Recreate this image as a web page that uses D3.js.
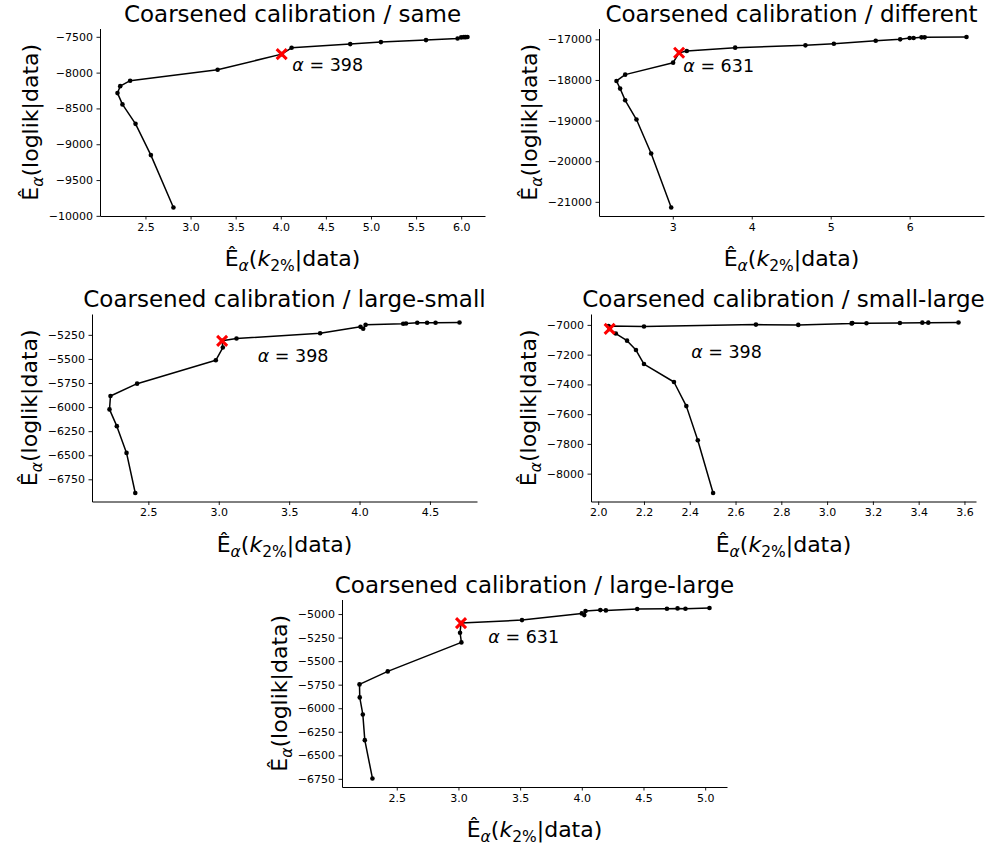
<!DOCTYPE html>
<html>
<head>
<meta charset="utf-8">
<script src="https://cdn.jsdelivr.net/npm/d3@7"></script>
<style>
  body { margin: 0; background: #fff; }
  text { font-family: "DejaVu Sans", sans-serif; fill: #000; }
</style>
</head>
<body>
<script>
// titres des panneaux
const titres = [
  "Coarsened calibration / same",
  "Coarsened calibration / different",
  "Coarsened calibration / large-small",
  "Coarsened calibration / small-large",
  "Coarsened calibration / large-large"
];

// valeurs (x = E(k2%|data), y = E(loglik|data))
const sameX = [2.81, 2.56, 2.39, 2.245, 2.19, 2.22, 2.33, 3.30, 4.01, 4.12, 4.77, 5.11, 5.61, 5.96, 6.00, 6.03, 6.05, 6.07];
const sameY = [-9883, -9152, -8715, -8444, -8286, -8189, -8113, -7960, -7742, -7653, -7602, -7574, -7546, -7524, -7508, -7505, -7505, -7503];

const diffX = [2.98, 2.726, 2.54, 2.397, 2.333, 2.287, 2.397, 3.004, 3.08, 3.177, 3.79, 4.68, 5.04, 5.57, 5.88, 6.0, 6.05, 6.15, 6.19, 6.72];
const diffY = [-21139, -19811, -18975, -18500, -18213, -18025, -17869, -17574, -17330, -17287, -17205, -17148, -17107, -17033, -17000, -16967, -16967, -16951, -16951, -16943];

const lsX = [2.407, 2.345, 2.276, 2.224, 2.231, 2.42, 2.979, 3.029, 3.024, 3.126, 3.72, 4.007, 4.026, 4.043, 4.31, 4.33, 4.41, 4.48, 4.54, 4.71];
const lsY = [-6892, -6476, -6198, -6024, -5885, -5757, -5514, -5382, -5312, -5288, -5233, -5167, -5187, -5146, -5135, -5132, -5125, -5125, -5125, -5122];

const slX = [2.502, 2.435, 2.385, 2.331, 2.2, 2.165, 2.126, 2.077, 2.05, 2.045, 2.2, 2.689, 2.874, 3.107, 3.11, 3.172, 3.318, 3.416, 3.442, 3.574];
const slY = [-8130, -7775, -7546, -7384, -7263, -7169, -7106, -7058, -7027, -7008, -7011, -6998, -7000, -6990, -6988, -6989, -6987, -6985, -6985, -6984];

const llX = [2.303, 2.241, 2.225, 2.2, 2.198, 2.427, 3.024, 3.013, 3.021, 3.515, 4.0, 4.02, 4.03, 4.15, 4.195, 4.449, 4.69, 4.776, 4.84, 5.035];
const llY = [-6746, -6339, -6066, -5885, -5747, -5609, -5301, -5198, -5096, -5064, -4993, -5011, -4968, -4958, -4961, -4947, -4943, -4940, -4943, -4936];

// point choisi (croix rouge) et son alpha
const indiceChoisi = [8, 8, 8, 8, 8];
const alphas = [398, 631, 398, 398, 631];
// position de l'annotation, en coordonnées des données
const annotX = [4.128, 3.133, 3.277, 2.406, 3.242];
const annotY = [-7975, -17804, -5528, -7220, -5311];

// graduations
const ticksX = [
  [2.5, 3.0, 3.5, 4.0, 4.5, 5.0, 5.5, 6.0],
  [3, 4, 5, 6],
  [2.5, 3.0, 3.5, 4.0, 4.5],
  [2.0, 2.2, 2.4, 2.6, 2.8, 3.0, 3.2, 3.4, 3.6],
  [2.5, 3.0, 3.5, 4.0, 4.5, 5.0]
];
const formatsX = [".1f", ".0f", ".1f", ".1f", ".1f"];
const ticksY = [
  [-10000, -9500, -9000, -8500, -8000, -7500],
  [-21000, -20000, -19000, -18000, -17000],
  [-6750, -6500, -6250, -6000, -5750, -5500, -5250],
  [-8000, -7800, -7600, -7400, -7200, -7000],
  [-6750, -6500, -6250, -6000, -5750, -5500, -5250, -5000]
];

const seriesX = [sameX, diffX, lsX, slX, llX];
const seriesY = [sameY, diffY, lsY, slY, llY];

// mise en page (pixels)
const largeur = 987, hauteur = 849;
const W = 385, H = 187.5;
const origines = [[100, 28.5], [599, 28.5], [92, 314], [591, 314], [342, 599.5]];

const svg = d3.select("body").append("svg")
  .attr("width", largeur)
  .attr("height", hauteur);
svg.append("rect").attr("width", largeur).attr("height", hauteur).attr("fill", "#fff");

// marge de 5% comme matplotlib
function domaine(vals) {
  const [a, b] = d3.extent(vals);
  const m = (b - a) * 0.05;
  return [a - m, b + m];
}

const moins = s => s.replace("-", "\u2212");

// label avec E chapeau, indice alpha et le reste
function label(sel, mot) {
  sel.append("tspan").text("\u00CA");
  sel.append("tspan").attr("font-size", "15.5px").attr("font-style", "italic").attr("dy", 5).text("\u03B1");
  sel.append("tspan").attr("dy", -5).text("(");
  if (mot === "k") {
    sel.append("tspan").attr("font-style", "italic").text("k");
    sel.append("tspan").attr("font-size", "15.5px").attr("dy", 5).text("2%");
    sel.append("tspan").attr("dy", -5).text("|data)");
  } else {
    sel.append("tspan").text("loglik|data)");
  }
}

titres.forEach(function(titre, i) {
  const [ox, oy] = origines[i];
  const g = svg.append("g").attr("transform", "translate(" + ox + "," + oy + ")");

  const xs = seriesX[i], ys = seriesY[i];
  const data = xs.map((d, j) => ({x: d, y: ys[j]}));

  const x = d3.scaleLinear().domain(domaine(xs)).range([0, W]);
  const y = d3.scaleLinear().domain(domaine(ys)).range([H, 0]);

  // axe x
  const axeX = g.append("g")
    .attr("transform", "translate(0," + H + ")")
    .call(d3.axisBottom(x).tickValues(ticksX[i]).tickFormat(d3.format(formatsX[i]))
      .tickSize(3.5).tickPadding(3.5).tickSizeOuter(0));

  // axe y
  const axeY = g.append("g")
    .call(d3.axisLeft(y).tickValues(ticksY[i]).tickFormat(d => moins(d3.format("d")(d)))
      .tickSize(3.5).tickPadding(3.5).tickSizeOuter(0));

  [axeX, axeY].forEach(function(a) {
    a.select(".domain").attr("stroke", "#000").attr("stroke-width", 1);
    a.selectAll(".tick line").attr("stroke", "#000").attr("stroke-width", 0.9);
    a.selectAll(".tick text").attr("font-family", "DejaVu Sans").attr("font-size", "11px").attr("fill", "#000");
  });

  // largeur max des étiquettes y pour placer le titre de l'axe
  let maxW = 0;
  axeY.selectAll(".tick text").each(function() {
    maxW = Math.max(maxW, this.getBBox().width);
  });

  // la courbe
  const ligne = d3.line().x(d => x(d.x)).y(d => y(d.y));
  g.append("path")
    .datum(data)
    .attr("d", ligne)
    .attr("fill", "none")
    .attr("stroke", "#000")
    .attr("stroke-width", 1.5)
    .attr("stroke-linejoin", "round");

  g.selectAll(".point").data(data).enter()
    .append("circle")
    .attr("class", "point")
    .attr("cx", d => x(d.x))
    .attr("cy", d => y(d.y))
    .attr("r", 2.3)
    .attr("fill", "#000");

  // croix rouge sur le point choisi
  const choisi = data[indiceChoisi[i]];
  g.append("path")
    .attr("d", d3.symbol().type(d3.symbolX).size(67)())
    .attr("transform", "translate(" + x(choisi.x) + "," + y(choisi.y) + ")")
    .attr("fill", "none")
    .attr("stroke", "#f00")
    .attr("stroke-width", 3);

  // annotation alpha
  const annot = g.append("text")
    .attr("x", x(annotX[i]))
    .attr("y", y(annotY[i]))
    .attr("font-size", "17.5px");
  annot.append("tspan").attr("font-style", "italic").text("\u03B1");
  annot.append("tspan").text(" = " + alphas[i]);

  // titre
  g.append("text")
    .attr("x", W / 2)
    .attr("y", -7)
    .attr("text-anchor", "middle")
    .attr("font-size", "23px")
    .text(titre);

  // titre axe x
  g.append("text")
    .attr("x", W / 2)
    .attr("y", H + 50)
    .attr("text-anchor", "middle")
    .attr("font-size", "22px")
    .call(label, "k");

  // titre axe y
  g.append("text")
    .attr("transform", "translate(" + (-(7 + maxW + 10.5)) + "," + (H / 2) + ") rotate(-90)")
    .attr("text-anchor", "middle")
    .attr("font-size", "22px")
    .call(label, "loglik");
});
</script>
</body>
</html>
